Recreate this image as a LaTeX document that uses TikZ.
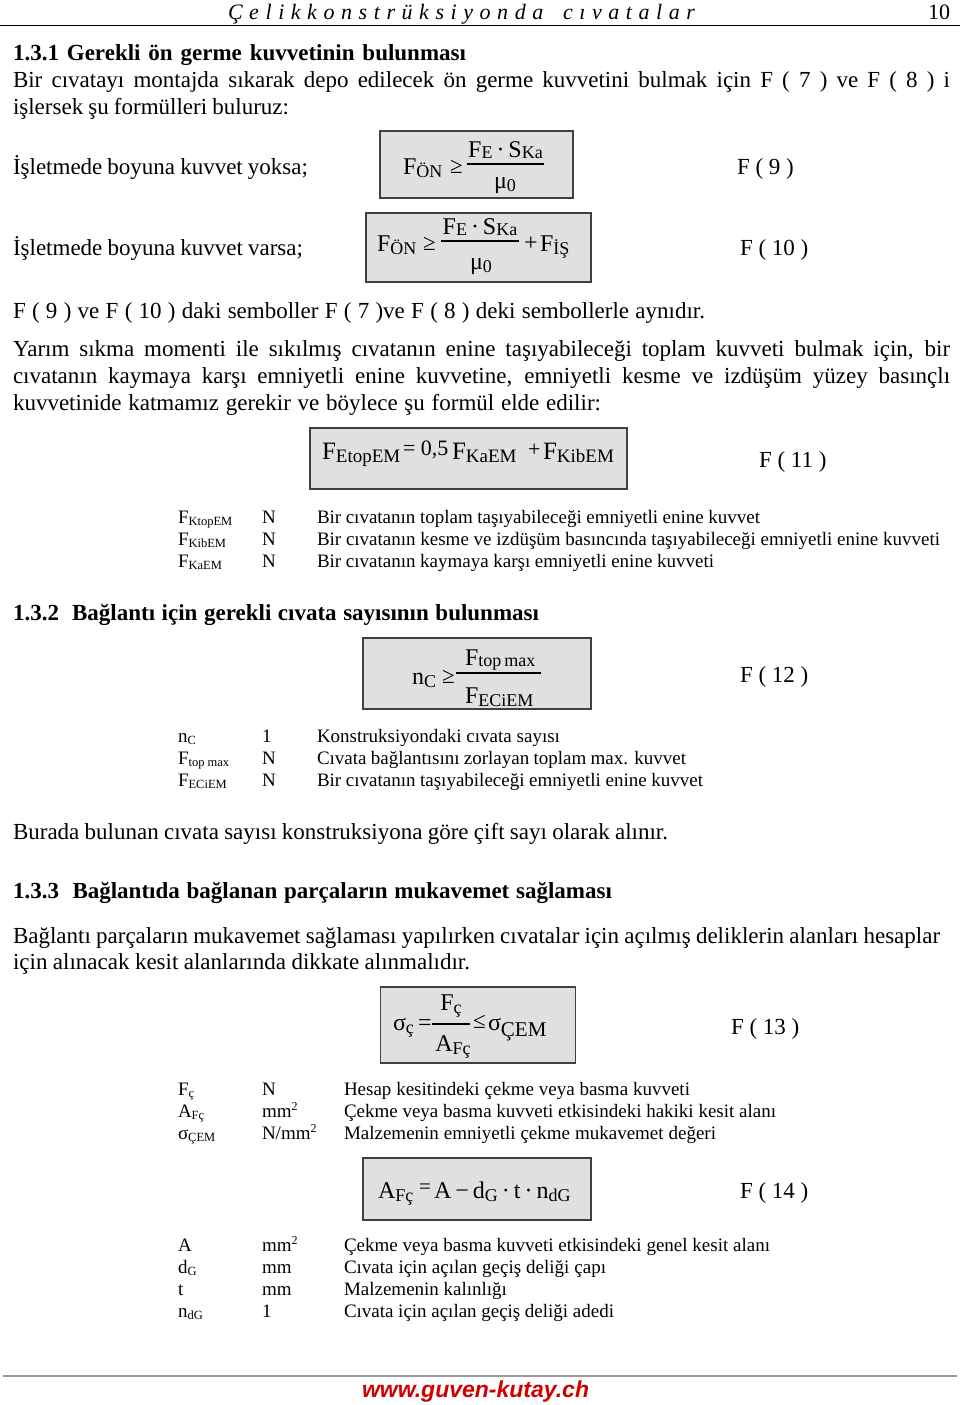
\documentclass[tikz,border=0pt]{standalone}
\usepackage{fontspec}
\usepackage{graphicx}
\setmainfont{Liberation Serif}
\newfontfamily\urlfont{Liberation Sans}
\definecolor{boxfill}{HTML}{E0E0E0}
\definecolor{boxline}{HTML}{404040}
\definecolor{urlred}{HTML}{D00000}
\definecolor{rulegray}{HTML}{9A9A9A}
\newcommand\bodyf{\fontsize{23}{27}\selectfont}
\newcommand\tabf{\fontsize{19}{21}\selectfont}
\newcommand\fxf{\fontsize{24}{24}\selectfont}
\newcommand\gef{\fontsize{23}{23}\selectfont}
\newcommand\lo[1]{\raisebox{-3pt}{\fontsize{18}{18}\selectfont #1}}
\newcommand\nlo[1]{\raisebox{-1.5pt}{\fontsize{18}{18}\selectfont #1}}
\newcommand\lob[1]{\raisebox{-3pt}{\fontsize{19}{19}\selectfont #1}}
\newcommand\tlo[1]{\raisebox{-2.5pt}{\fontsize{12.5}{12.5}\selectfont #1}}
\newcommand\tsup[1]{\raisebox{6.5pt}{\fontsize{12}{12}\selectfont #1}}
\newcommand\jl[2]{\makebox[#1pt][s]{#2}}
\begin{document}
\begin{tikzpicture}[x=1pt,y=-1pt,
  txt/.style={anchor=base west, inner sep=0pt, outer sep=0pt, font=\bodyf},
  head/.style={anchor=base west, inner sep=0pt, outer sep=0pt, font=\bodyf\bfseries},
  hd/.style={anchor=base west, inner sep=0pt, outer sep=0pt, font=\fontsize{22}{22}\selectfont},
  tab/.style={anchor=base west, inner sep=0pt, outer sep=0pt, font=\tabf},
  fx/.style={anchor=base west, inner sep=0pt, outer sep=0pt, font=\fxf},
  fxc/.style={anchor=base, inner sep=0pt, outer sep=0pt, font=\fxf},
  fbox/.style={draw=boxline, fill=boxfill, line width=1.8pt, inner sep=0pt, outer sep=0pt},
  fbar/.style={line width=1.3pt},
  fref/.style={anchor=base west, inner sep=0pt, outer sep=0pt, font=\bodyf}]
\fill[white] (0,0) rectangle (960,1405);
\useasboundingbox (0,0) rectangle (960,1405);

% ---------- header ----------
\node[hd] (hdr) at (228,20) {\makebox[467pt]{\itshape Ç\hfill e\hfill l\hfill i\hfill k\hfill k\hfill o\hfill n\hfill s\hfill t\hfill r\hfill ü\hfill k\hfill s\hfill i\hfill y\hfill o\hfill n\hfill d\hfill a\hfill\hfill\hfill c\hfill ı\hfill v\hfill a\hfill t\hfill a\hfill l\hfill a\hfill r}};
\node[hd] (pg) at (928,20) {10};
\coordinate (hrl) at (0,25.5);
\coordinate (hrr) at (960,25.5);
\draw[line width=1.3pt] (hrl) -- (hrr);

% ---------- 1.3.1 ----------
\node[head] (h131) at (13,61) {\jl{453}{1.3.1 Gerekli ön germe kuvvetinin bulunması}};
\node[txt] (p1a) at (13,88) {\jl{937}{Bir cıvatayı montajda sıkarak depo edilecek ön germe kuvvetini bulmak için F ( 7 ) ve F ( 8 ) i}};
\node[txt] (p1b) at (13,114) {\jl{276}{işlersek şu formülleri buluruz:}};

\node[txt] (yoksa) at (13,174) {\jl{295}{İşletmede boyuna kuvvet yoksa;}};
\node[fbox, minimum width=193pt, minimum height=67pt] (box1) at (476.5,164.5) {};
\node[fx] (e9l) at (403,174) {F\lo{ÖN}};
\node[fx, font=\gef] (e9g) at (450,173) {≥};
\coordinate (e9b1) at (467,164);
\coordinate (e9b2) at (544,164);
\draw[fbar] (e9b1) -- (e9b2);
\node[fxc] (e9n) at (505.5,157) {F\nlo{E}\,·\,S\nlo{Ka}};
\node[fxc] (e9d) at (505,188) {μ\lo{0}};
\node[fref] (f9) at (737,174) {F ( 9 )};

\node[txt] (varsa) at (13,255) {\jl{290}{İşletmede boyuna kuvvet varsa;}};
\node[fbox, minimum width=225pt, minimum height=69pt] (box2) at (478.5,247.5) {};
\node[fx] (e10l) at (377,251) {F\lo{ÖN}};
\node[fx, font=\gef] (e10g) at (423,250) {≥};
\coordinate (e10b1) at (441,241);
\coordinate (e10b2) at (519,241);
\draw[fbar] (e10b1) -- (e10b2);
\node[fxc] (e10n) at (480,234) {F\nlo{E}\,·\,S\nlo{Ka}};
\node[fxc] (e10d) at (481,269) {μ\lo{0}};
\node[fx] (e10p) at (524,250) {+};
\node[fx] (e10r) at (540,251) {F\lo{İŞ}};
\node[fref] (f10) at (740,255) {F ( 10 )};

\node[txt] (p2) at (13,318) {\jl{692}{F ( 9 ) ve F ( 10 ) daki semboller F ( 7 )ve F ( 8 ) deki sembollerle aynıdır.}};

\node[txt] (p3a) at (13,356) {\jl{937}{Yarım sıkma momenti ile sıkılmış cıvatanın enine taşıyabileceği toplam kuvveti bulmak için, bir}};
\node[txt] (p3b) at (13,383) {\jl{937}{cıvatanın kaymaya karşı emniyetli enine kuvvetine, emniyetli kesme ve izdüşüm yüzey basınçlı}};
\node[txt] (p3c) at (13,410) {\jl{588}{kuvvetinide katmamız gerekir ve böylece şu formül elde edilir:}};

\node[fbox, minimum width=317pt, minimum height=61pt] (box3) at (468.5,458.5) {};
\node[fx, font=\fontsize{25}{25}\selectfont] (e11a) at (322,459) {F\lob{EtopEM}};
\node[fx, font=\fontsize{22}{22}\selectfont] (e11b) at (403,455) {= 0,5};
\node[fx, font=\fontsize{25}{25}\selectfont] (e11c) at (452,459) {F\lob{KaEM}};
\node[fx, font=\fontsize{22}{22}\selectfont] (e11d) at (528,456) {+};
\node[fx, font=\fontsize{25}{25}\selectfont] (e11e) at (543,459) {F\lob{KibEM}};
\node[fref] (f11) at (759,467) {F ( 11 )};

\node[tab] (t1a1) at (178,523) {F\tlo{KtopEM}};
\node[tab] (t1a2) at (262,523) {N};
\node[tab] (t1a3) at (317,523) {\jl{443}{Bir cıvatanın toplam taşıyabileceği emniyetli enine kuvvet}};
\node[tab] (t1b1) at (178,545) {F\tlo{KibEM}};
\node[tab] (t1b2) at (262,545) {N};
\node[tab] (t1b3) at (317,545) {\jl{623}{Bir cıvatanın kesme ve izdüşüm basıncında taşıyabileceği emniyetli enine kuvveti}};
\node[tab] (t1c1) at (178,567) {F\tlo{KaEM}};
\node[tab] (t1c2) at (262,567) {N};
\node[tab] (t1c3) at (317,567) {\jl{397}{Bir cıvatanın kaymaya karşı emniyetli enine kuvveti}};

% ---------- 1.3.2 ----------
\node[head] (h132) at (13,620) {\jl{526}{1.3.2\ \ Bağlantı için gerekli cıvata sayısının bulunması}};
\node[fbox, minimum width=228pt, minimum height=71pt] (box4) at (477,673.5) {};
\node[fx] (e12l) at (412,684) {n\lo{C}};
\node[fx, font=\gef] (e12g) at (442,683) {≥};
\coordinate (e12b1) at (456,673);
\coordinate (e12b2) at (541,673);
\draw[fbar] (e12b1) -- (e12b2);
\node[fx] (e12n) at (465,665) {F\nlo{top\,max}};
\node[fx] (e12d) at (465,703) {F\lo{ECiEM}};
\node[fref] (f12) at (740,682) {F ( 12 )};

\node[tab] (t2a1) at (178,742) {n\tlo{C}};
\node[tab] (t2a2) at (262,742) {1};
\node[tab] (t2a3) at (317,742) {\jl{243}{Konstruksiyondaki cıvata sayısı}};
\node[tab] (t2b1) at (178,764) {F\tlo{top max}};
\node[tab] (t2b2) at (262,764) {N};
\node[tab] (t2b3) at (317,764) {\jl{369}{Cıvata bağlantısını zorlayan toplam max. kuvvet}};
\node[tab] (t2c1) at (178,786) {F\tlo{ECiEM}};
\node[tab] (t2c2) at (262,786) {N};
\node[tab] (t2c3) at (317,786) {\jl{386}{Bir cıvatanın taşıyabileceği emniyetli enine kuvvet}};

\node[txt] (p4) at (13,839) {\jl{655}{Burada bulunan cıvata sayısı konstruksiyona göre çift sayı olarak alınır.}};

% ---------- 1.3.3 ----------
\node[head] (h133) at (13,898) {\jl{599}{1.3.3\ \ Bağlantıda bağlanan parçaların mukavemet sağlaması}};
\node[txt] (p5a) at (13,943) {\jl{927}{Bağlantı parçaların mukavemet sağlaması yapılırken cıvatalar için açılmış deliklerin alanları hesaplar}};
\node[txt] (p5b) at (13,969) {\jl{457}{için alınacak kesit alanlarında dikkate alınmalıdır.}};

\node[fbox, minimum width=195pt, minimum height=76pt] (box5) at (478,1025) {};
\node[fx] (e13l) at (393,1030) {σ\lo{ç}};
\node[fx] (e13e) at (418,1030) {=};
\coordinate (e13b1) at (432,1024);
\coordinate (e13b2) at (470,1024);
\draw[fbar] (e13b1) -- (e13b2);
\node[fxc] (e13n) at (451,1010) {F\lo{ç}};
\node[fxc] (e13d) at (453,1051) {A\lo{Fç}};
\node[fx, font=\gef] (e13g) at (473,1028) {≤};
\node[fx] (e13r) at (488,1030) {σ\raisebox{-6pt}{\fontsize{21}{21}\selectfont ÇEM}};
\node[fref] (f13) at (731,1034) {F ( 13 )};

\node[tab] (t3a1) at (178,1095) {F\tlo{ç}};
\node[tab] (t3a2) at (262,1095) {N};
\node[tab] (t3a3) at (344,1095) {\jl{346}{Hesap kesitindeki çekme veya basma kuvveti}};
\node[tab] (t3b1) at (178,1117) {A\tlo{Fç}};
\node[tab] (t3b2) at (262,1117) {mm\tsup{2}};
\node[tab] (t3b3) at (344,1117) {\jl{432}{Çekme veya basma kuvveti etkisindeki hakiki kesit alanı}};
\node[tab] (t3c1) at (178,1139) {σ\tlo{ÇEM}};
\node[tab] (t3c2) at (262,1139) {N/mm\tsup{2}};
\node[tab] (t3c3) at (344,1139) {\jl{372}{Malzemenin emniyetli çekme mukavemet değeri}};

\node[fbox, minimum width=228pt, minimum height=62pt] (box6) at (477,1189) {};
\node[fx] (e14a) at (378,1198) {A\lo{Fç}};
\node[fx, font=\fontsize{21}{21}\selectfont] (e14e) at (419,1193) {=};
\node[fx] (e14r) at (434,1198) {A\,−\,d\lo{G}\,·\,t\,·\,n\lo{dG}};
\node[fref] (f14) at (740,1198) {F ( 14 )};

\node[tab] (t4a1) at (178,1251) {A};
\node[tab] (t4a2) at (262,1251) {mm\tsup{2}};
\node[tab] (t4a3) at (344,1251) {\jl{426}{Çekme veya basma kuvveti etkisindeki genel kesit alanı}};
\node[tab] (t4b1) at (178,1273) {d\tlo{G}};
\node[tab] (t4b2) at (262,1273) {mm};
\node[tab] (t4b3) at (344,1273) {\jl{262}{Cıvata için açılan geçiş deliği çapı}};
\node[tab] (t4c1) at (178,1295) {t};
\node[tab] (t4c2) at (262,1295) {mm};
\node[tab] (t4c3) at (344,1295) {\jl{163}{Malzemenin kalınlığı}};
\node[tab] (t4d1) at (178,1317) {n\tlo{dG}};
\node[tab] (t4d2) at (262,1317) {1};
\node[tab] (t4d3) at (344,1317) {\jl{270}{Cıvata için açılan geçiş deliği adedi}};

% ---------- footer ----------
\coordinate (frl) at (3,1376);
\coordinate (frr) at (957,1376);
\draw[rulegray, line width=1.6pt] (frl) -- (frr);
\node[anchor=base west, inner sep=0pt, outer sep=0pt, text=urlred, font=\urlfont\bfseries\itshape\fontsize{23}{23}\selectfont] (url) at (362,1397) {www.guven-kutay.ch};
\end{tikzpicture}
\end{document}
